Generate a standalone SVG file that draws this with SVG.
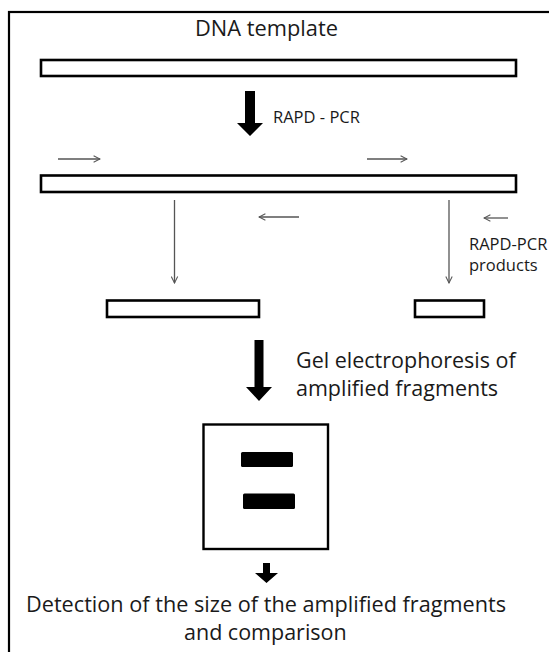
<svg xmlns="http://www.w3.org/2000/svg" width="549" height="652" viewBox="0 0 549 652">
<defs>
<style>
.bar{fill:#fff;stroke:#000;stroke-width:2.6}
.thin{fill:none;stroke:#555;stroke-width:1.3}
.big{fill:#000}
text{font-family:"Open Sans","Liberation Sans",sans-serif;fill:#1a1a1a}
.lg{font-size:21.5px}
.sm{font-size:16.5px}
</style>
<marker id="ah" viewBox="0 0 10 10" refX="9" refY="5" markerWidth="8" markerHeight="8" markerUnits="userSpaceOnUse" orient="auto">
<path d="M1,1 L9,5 L1,9" fill="none" stroke="#555" stroke-width="1.3"/>
</marker>
</defs>
<rect width="549" height="652" fill="#fff"/>
<rect id="frame" x="9" y="12" width="580" height="700" fill="none" stroke="#000" stroke-width="2.2"/>

<g id="dna-template">
<text class="lg" x="195" y="36" font-size="21" textLength="143" lengthAdjust="spacingAndGlyphs">DNA template</text>
<rect class="bar" x="41" y="60" width="475" height="16"/>
</g>

<g id="template-primed">
<rect class="bar" x="41" y="175.5" width="475" height="16.5"/>
</g>

<g id="product-long">
<rect class="bar" x="107" y="300.5" width="152" height="16.5"/>
</g>

<g id="product-short">
<rect class="bar" x="415" y="300.5" width="69" height="16.5"/>
</g>

<g id="gel">
<rect x="203.5" y="424.5" width="124.5" height="124.5" fill="#fff" stroke="#000" stroke-width="2.4"/>
<rect x="241" y="452" width="52" height="15" rx="1.5" fill="#000"/>
<rect x="243" y="493.5" width="52" height="15.5" rx="1.5" fill="#000"/>
</g>

<g id="labels">
<text class="sm" x="273" y="123">RAPD - PCR</text>
<text class="sm" x="469" y="250">RAPD-PCR</text>
<text class="sm" x="469" y="271">products</text>
<text class="lg" x="296" y="368">Gel electrophoresis of</text>
<text class="lg" x="296" y="396">amplified fragments</text>
<text class="lg" x="26" y="612" textLength="480" lengthAdjust="spacingAndGlyphs">Detection of the size of the amplified fragments</text>
<text class="lg" x="184" y="640">and comparison</text>
</g>

<g id="connectors">
<path class="big" d="M245,91 H255 V123 H263 L250,136 L237,123 H245 Z"/>
<path class="big" d="M254.5,340 H263.5 V387 H272 L259,401 L246,387 H254.5 Z"/>
<path class="big" d="M263,563 H270 V573 H278 L266.5,583 L255,573 H263 Z"/>
<line class="thin" x1="58" y1="159" x2="100" y2="159" marker-end="url(#ah)"/>
<line class="thin" x1="367" y1="159" x2="407" y2="159" marker-end="url(#ah)"/>
<line class="thin" x1="299" y1="217" x2="259" y2="217" marker-end="url(#ah)"/>
<line class="thin" x1="508" y1="218" x2="484" y2="218" marker-end="url(#ah)"/>
<line class="thin" x1="174.5" y1="200" x2="174.5" y2="283" marker-end="url(#ah)"/>
<line class="thin" x1="449" y1="200" x2="449" y2="283" marker-end="url(#ah)"/>
</g>
</svg>
